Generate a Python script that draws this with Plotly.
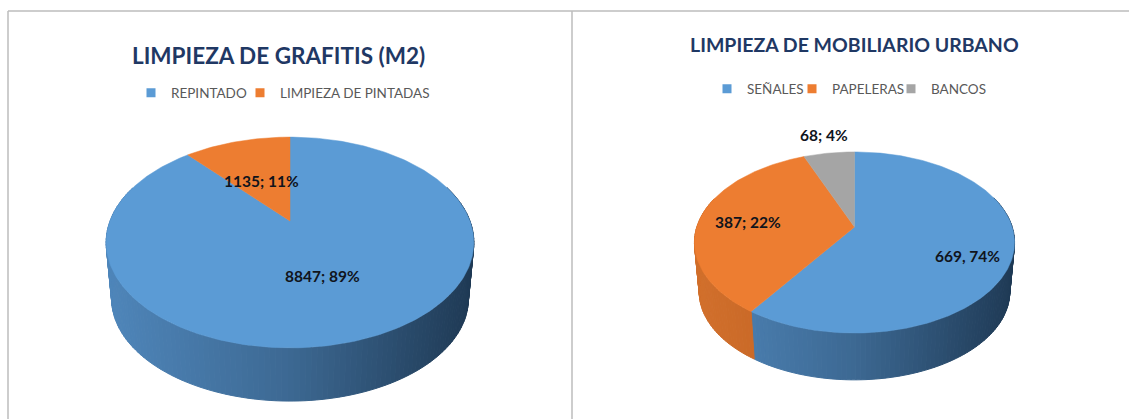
import numpy as np
import plotly.graph_objects as go

# ---- data ----
left_title = "LIMPIEZA DE GRAFITIS (M2)"
left_categories = ["REPINTADO", "LIMPIEZA DE PINTADAS"]
left_values = [8847, 1135]
left_labels = ["8847; 89%", "1135; 11%"]

right_title = "LIMPIEZA DE MOBILIARIO URBANO"
right_categories = ["SEÑALES", "PAPELERAS", "BANCOS"]
right_values = [669, 387, 68]
right_labels = ["669, 74%", "387; 22%", "68; 4%"]

# ---- styling ----
W, H = 1129, 419
FONT = "Lato"
TOP = {"blue": "#5b9bd5", "orange": "#ed7d31", "gray": "#a5a5a5"}
left_colors = ["blue", "orange"]
right_colors = ["blue", "orange", "gray"]
SIDE = {
    "blue": ((0x4f, 0x86, 0xba), (0x3d, 0x69, 0x93), (0x1f, 0x3a, 0x55)),
    "orange": ((0xd2, 0x70, 0x2c), (0xbe, 0x60, 0x22), (0xa8, 0x52, 0x18)),
    "gray": ((0x8a, 0x8a, 0x8a), (0x7a, 0x7a, 0x7a), (0x6a, 0x6a, 0x6a)),
}

fig = go.Figure()


def project(theta, g):
    """Perspective view of a disc: theta runs clockwise from twelve o'clock."""
    u, v = np.sin(theta), np.cos(theta)
    w = 1 + g["k"] * v
    return g["B"] * u / w, -g["A"] * v / w


def side_colour(name, t):
    a, b, c = SIDE[name]
    t = min(max(t, 0), 1)
    p, q, s = (a, b, t * 2) if t < 0.5 else (b, c, (t - 0.5) * 2)
    return "rgb(%d,%d,%d)" % tuple(p[i] + (q[i] - p[i]) * s for i in range(3))


def draw_pie(values, colors, g):
    total = sum(values)
    edges = np.concatenate([[0], np.cumsum(values)]) / total * 2 * np.pi
    half = g["B"] * 1.02
    # wall
    for i, name in enumerate(colors):
        n = max(int((edges[i + 1] - edges[i]) / np.radians(1.5)), 1)
        th = np.linspace(edges[i], edges[i + 1], n + 1)
        for a, b in zip(th[:-1], th[1:]):
            if np.cos((a + b) / 2) > 0.35:
                continue
            ax, ay = project(a, g)
            bx, by = project(b, g)
            s = g["scale"]
            xs = [ax, bx, bx * s, ax * s, ax]
            ys = [ay, by, by * s + g["depth"], ay * s + g["depth"], ay]
            col = side_colour(name, ((ax + bx) / 2 + half) / (2 * half))
            fig.add_trace(go.Scatter(
                x=[g["cx"] + p for p in xs], y=[g["cy"] + p for p in ys],
                mode="lines", fill="toself", fillcolor=col,
                line=dict(color=col, width=1),
                hoverinfo="skip", showlegend=False))
    # top surface
    for i, name in enumerate(colors):
        n = max(int((edges[i + 1] - edges[i]) / np.radians(1)), 2)
        th = np.linspace(edges[i], edges[i + 1], n + 1)
        px, py = project(th, g)
        fig.add_trace(go.Scatter(
            x=np.concatenate([[g["cx"]], g["cx"] + px, [g["cx"]]]),
            y=np.concatenate([[g["cy"]], g["cy"] + py, [g["cy"]]]),
            mode="lines", fill="toself", fillcolor=TOP[name],
            line=dict(color=TOP[name], width=0.5),
            hoverinfo="skip", showlegend=False))


draw_pie(left_values, left_colors,
         dict(cx=290, cy=221, A=101, B=180, k=0.204, depth=57, scale=0.97))
draw_pie(right_values, right_colors,
         dict(cx=854.5, cy=227, A=87.9, B=157.7, k=0.171, depth=50, scale=0.97))

# legend entries: one small legend per entry so each sits where the reference has it
legend_font = dict(family=FONT, size=13.5, color="#595959")
legend_layout = {}
entries = list(zip(left_categories, left_colors, [131, 240], [93, 93])) + \
    list(zip(right_categories, right_colors, [707, 792, 891], [89, 89, 89]))
for i, (c, n, lx, ly) in enumerate(entries):
    key = "legend" if i == 0 else f"legend{i + 1}"
    fig.add_trace(go.Scatter(
        x=[None], y=[None], mode="markers", name=c, legend=key,
        marker=dict(symbol="square", size=9, color=TOP[n])))
    legend_layout[key] = dict(x=lx / W, y=1 - ly / H, xanchor="left", yanchor="middle",
                              font=legend_font, itemwidth=30, bgcolor="rgba(0,0,0,0)")


def note(text, x, y, size, color="#10141c", bold=True):
    fig.add_annotation(
        x=x, y=y, xref="x", yref="y", text=f"<b>{text}</b>" if bold else text,
        showarrow=False, xanchor="center", yanchor="middle",
        font=dict(family=FONT, size=size, color=color))


note(left_title, 278, 55, 22.5, "#1f3864")
note(right_title, 854, 44, 19.5, "#1f3864")
for t, (x, y) in zip(left_labels, [(322, 276), (261, 181)]):
    note(t, x, y, 15.5)
for t, (x, y) in zip(right_labels, [(967, 256), (748, 222), (824, 135)]):
    note(t, x, y, 15.5)

# panel frame
frame = [(8, 11, W, 11), (8, 11, 8, H), (572, 11, 572, H)]
shapes = [dict(type="line", xref="x", yref="y", x0=a, y0=b, x1=c, y1=d,
               line=dict(color="#bdbdbd", width=1.5), layer="below")
          for a, b, c, d in frame]

fig.update_layout(
    width=W, height=H, margin=dict(l=0, r=0, t=0, b=0), autosize=False,
    paper_bgcolor="white", plot_bgcolor="white", shapes=shapes,
    xaxis=dict(range=[0, W], visible=False, fixedrange=True),
    yaxis=dict(range=[H, 0], visible=False, fixedrange=True),
    **legend_layout,
)
fig.write_html("out.html", config={"displayModeBar": False},
               post_script="document.body.style.margin='0';")
